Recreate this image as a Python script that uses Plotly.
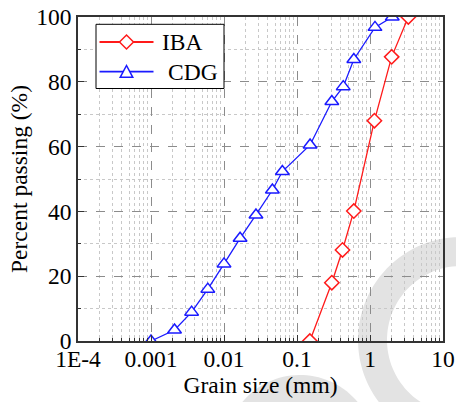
import numpy as np
import plotly.graph_objects as go

# Grain size distributions (sieve + hydrometer)
iba_size = [0.15, 0.30, 0.42, 0.60, 1.15, 1.98, 3.35]
iba_pass = [0.0, 18.0, 28.1, 40.1, 68.0, 87.7, 100.0]

cdg_size = [0.001, 0.0021, 0.0036, 0.0060, 0.010, 0.0166, 0.0274,
            0.046, 0.063, 0.151, 0.30, 0.43, 0.60, 1.17, 2.02]
cdg_pass = [0.0, 3.4, 8.9, 16.0, 23.8, 31.7, 38.9,
            46.6, 52.3, 60.5, 73.9, 78.5, 86.9, 96.8, 100.0]

x_tickvals = [1e-4, 1e-3, 1e-2, 1e-1, 1, 10]
x_ticktext = ["1E-4", "0.001", "0.01", "0.1", "1", "10"]
y_tickvals = [0, 20, 40, 60, 80, 100]

FONT = "Liberation Serif"
FS = 23.5
W, H = 456, 402
ML, MR, MT, MB = 78, 13, 17, 61
PW, PH = W - ML - MR, H - MT - MB

RED = "#ff1a1a"
BLUE = "#1a1aff"

minor_x = [m * 10.0 ** e for e in range(-4, 1) for m in range(2, 10)]

fig = go.Figure()
fig.add_trace(go.Scatter(
    x=iba_size, y=iba_pass, name="IBA", mode="lines+markers",
    line=dict(color=RED, width=1.3),
    marker=dict(symbol="diamond", size=11, color="white",
                line=dict(width=1.5, color=RED)),
))
fig.add_trace(go.Scatter(
    x=cdg_size, y=cdg_pass, name="CDG", mode="lines+markers",
    line=dict(color=BLUE, width=1.3),
    marker=dict(symbol="triangle-up", size=12, color="white",
                line=dict(width=1.5, color=BLUE)),
))


def px_to_paper(px, py):
    return (px - ML) / PW, (H - MB - py) / PH


def poly_path(points):
    parts = []
    for i, (px, py) in enumerate(points):
        X, Y = px_to_paper(px, py)
        parts.append(("M" if i == 0 else "L") + f"{X:.4f},{Y:.4f}")
    return " ".join(parts) + " Z"


def circle_pts(cx, cy, r, n=120, reverse=False):
    t = np.linspace(0, 2 * np.pi, n)
    if reverse:
        t = t[::-1]
    return [(cx + r * np.cos(a), cy + r * np.sin(a)) for a in t]


# faint background emblem
wm = "#e3e3e3"
fig.add_shape(type="path", xref="paper", yref="paper", layer="below",
              path=poly_path(circle_pts(461, 340, 103)) + " "
              + poly_path(circle_pts(461, 340, 74, reverse=True)),
              fillcolor=wm, line=dict(width=0), fillrule="evenodd")
fig.add_shape(type="path", xref="paper", yref="paper", layer="below",
              path=poly_path(circle_pts(300, 450, 75)), fillcolor=wm,
              line=dict(width=0))

# legend box drawn by hand
bx0, by0 = px_to_paper(96, 88.5)
bx1, by1 = px_to_paper(224, 24.3)
fig.add_shape(type="rect", xref="paper", yref="paper", layer="above",
              x0=bx0, y0=by0, x1=bx1, y1=by1,
              fillcolor="white", line=dict(color="black", width=1))

legend_rows = [
    ("IBA", RED, 42.0, 160.0, "diamond"),
    ("CDG", BLUE, 71.7, 166.0, "triangle"),
]
for label, color, ly, tx, sym in legend_rows:
    lx0, lyp = px_to_paper(99.5, ly)
    lx1, _ = px_to_paper(153.5, ly)
    fig.add_shape(type="line", xref="paper", yref="paper", layer="above",
                  x0=lx0, x1=lx1, y0=lyp, y1=lyp,
                  line=dict(color=color, width=1.8))
    cx = 126.5
    if sym == "diamond":
        pts = [(cx - 7, ly), (cx, ly - 7), (cx + 7, ly), (cx, ly + 7)]
    else:
        pts = [(cx - 6.3, ly + 5.6), (cx + 6.3, ly + 5.6), (cx, ly - 6.2)]
    fig.add_shape(type="path", xref="paper", yref="paper", layer="above",
                  path=poly_path(pts), fillcolor="white",
                  line=dict(color=color, width=1.5))
    ax, ay = px_to_paper(tx, ly)
    fig.add_annotation(x=ax, y=ay, xref="paper", yref="paper",
                       text=label, showarrow=False, xanchor="left",
                       yanchor="middle",
                       font=dict(family=FONT, size=FS, color="black"))

axis_common = dict(
    showline=True, linecolor="#333333", linewidth=1.5, mirror=True,
    ticks="inside", ticklen=6, tickwidth=1.2, tickcolor="#333333",
    showgrid=True, gridcolor="#8c8c8c", griddash="dash", gridwidth=1,
    zeroline=False, automargin=False,
    tickfont=dict(family=FONT, size=FS, color="black"),
)

fig.update_xaxes(
    type="log", range=[-4, 1],
    tickmode="array", tickvals=x_tickvals, ticktext=x_ticktext,
    ticklabelstandoff=-4,
    title=dict(text="Grain size (mm)", font=dict(family=FONT, size=FS, color="black"),
               standoff=0),
    minor=dict(tickmode="array", tickvals=minor_x, ticks="inside", ticklen=3,
               tickcolor="#333333", showgrid=True, gridcolor="#c8c8c8",
               griddash="dot", gridwidth=1),
    **axis_common,
)
fig.update_yaxes(
    range=[0, 100],
    tickmode="array", tickvals=y_tickvals,
    title=dict(text="Percent passing (%)", font=dict(family=FONT, size=FS, color="black"),
               standoff=2),
    minor=dict(tickmode="array", tickvals=[10, 30, 50, 70, 90], ticks="inside",
               ticklen=3, tickcolor="#333333", showgrid=True,
               gridcolor="#c8c8c8", griddash="dot", gridwidth=1),
    **axis_common,
)

fig.update_layout(
    width=W, height=H,
    margin=dict(l=ML, r=MR, t=MT, b=MB),
    paper_bgcolor="white", plot_bgcolor="rgba(0,0,0,0)",
    font=dict(family=FONT, size=FS, color="black"),
    showlegend=False,
)

fig.write_html("out.html")
